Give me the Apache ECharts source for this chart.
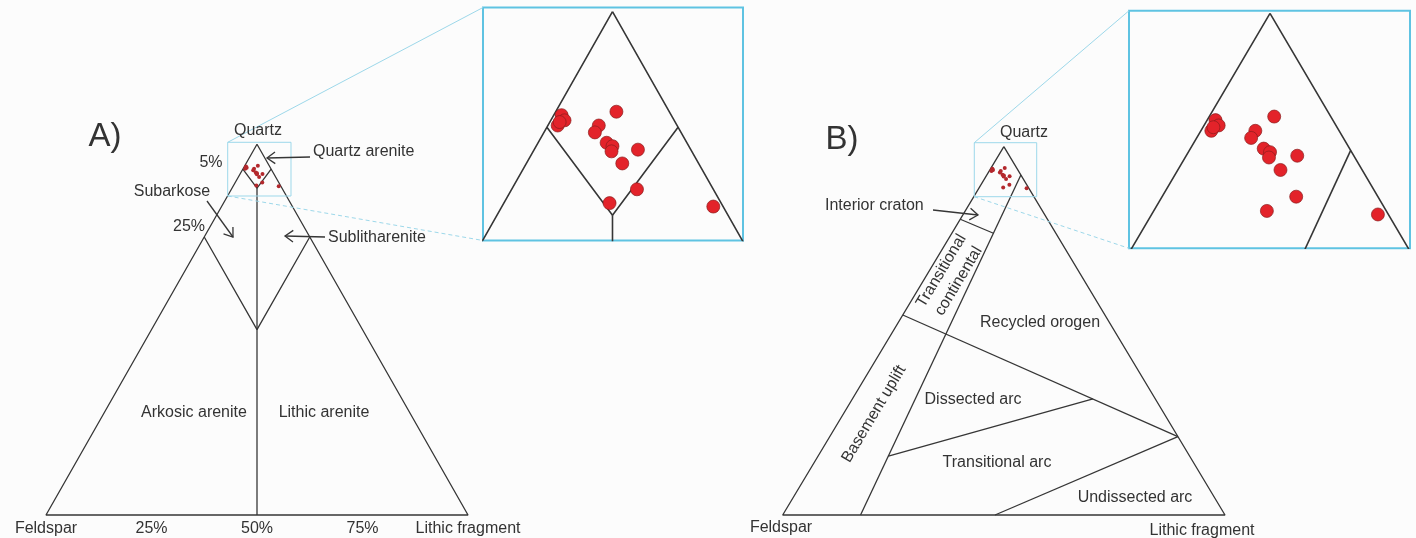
<!DOCTYPE html>
<html><head><meta charset="utf-8">
<script src="https://cdn.jsdelivr.net/npm/echarts@6/dist/echarts.min.js"></script>
<style>html,body{margin:0;padding:0;background:#fcfcfc}#c{width:1416px;height:538px}</style>
</head><body><div id="c"></div>
<script>
// Sample compositions (%): Quartz, Feldspar, Lithic fragment
const sampleQ = [94.0, 93.7, 93.4, 93.6, 94.2, 93.4, 93.0, 92.4, 92.2, 91.9, 92.0, 91.2, 89.7, 88.9, 88.7];
const sampleF = [5.6, 5.6, 6.1, 5.9, 2.7, 4.0, 4.4, 4.1, 3.9, 4.1, 2.7, 3.9, 3.9, 5.7, 0.5];
const sampleL = [0.4, 0.7, 0.5, 0.5, 3.1, 2.6, 2.6, 3.5, 3.9, 4.0, 5.3, 4.9, 6.4, 5.4, 10.8];

// Field boundaries as ternary points [Q, F, L]
const triangleOutline = [[100, 0, 0], [0, 100, 0], [0, 0, 100], [100, 0, 0]];
const folkQuartzArenite = [[93.3, 6.7, 0], [88.2, 5.9, 5.9], [93.3, 0, 6.7]];
const folkMidline = [[88.2, 5.9, 5.9], [0, 50, 50]];
const folkSubBoundary = [[75, 25, 0], [50, 25, 25], [75, 0, 25]];
const dickContinental = [[92.3, 0, 7.7], [0, 82.4, 17.6]];
const dickCraton = [[80.3, 19.7, 0], [76.5, 14.1, 9.4]];
const dickRecycled = [[54.3, 45.7, 0], [21.3, 0, 78.7]];
const dickArcSplit = [[31.5, 14.1, 54.4], [16.0, 68.1, 15.9]];
const dickUndissected = [[21.3, 0, 78.7], [0, 52, 48]];

// Text
const baseTicksA = ['Feldspar', '25%', '50%', '75%', 'Lithic fragment'];
const apexName = 'Quartz';
const panelTitles = ['A)', 'B)'];
const folkLabels = ['5%', '25%', 'Quartz arenite', 'Subarkose', 'Sublitharenite', 'Arkosic arenite', 'Lithic arenite'];
const dickLabels = ['Interior craton', 'Transitional\ncontinental', 'Recycled orogen', 'Basement uplift', 'Dissected arc', 'Transitional arc', 'Undissected arc', 'Feldspar', 'Lithic fragment'];

function toXY(p) { return [p[2] + p[0] / 2, p[0]]; }
const samplesXY = sampleQ.map((q, i) => toXY([q, sampleF[i], sampleL[i]]));

const LINE = '#363636', TXT = '#333', BLUE = '#5fc3e2', LBLUE = '#9dd8ea';
const FONT = 'Liberation Sans, Arial, sans-serif';

const grids = [
  { left: 46, top: 144.3, width: 422, height: 370.7 },
  { left: 483, top: 7.5, width: 260, height: 233, show: true, borderColor: BLUE, borderWidth: 2 },
  { left: 782.7, top: 146.7, width: 442.3, height: 368.3 },
  { left: 1129, top: 10.7, width: 281, height: 237.6, show: true, borderColor: BLUE, borderWidth: 2 }
];
const xRanges = [[0, 100], [43.385, 56.667], [0, 100], [43.271, 56.681]];
const yRanges = [[0, 100], [86.731, 100.244], [0, 100], [86.8, 100.146]];

const xAxes = xRanges.map((r, i) => ({
  type: 'value', gridIndex: i, min: r[0], max: r[1],
  interval: i === 0 ? 25 : undefined,
  show: i === 0,
  axisLine: { show: false }, axisTick: { show: false }, splitLine: { show: false },
  axisLabel: i === 0 ? {
    show: true, margin: 6, color: TXT, fontSize: 16, fontFamily: FONT,
    showMinLabel: true, showMaxLabel: true,
    formatter: v => baseTicksA[Math.round(v / 25)]
  } : { show: false }
}));
const yAxes = yRanges.map((r, i) => ({
  type: 'value', gridIndex: i, min: r[0], max: r[1], show: false,
  splitLine: { show: false }
}));

const series = [];
function addLines(gi, sets, width) {
  sets.forEach(s => series.push({
    type: 'line', xAxisIndex: gi, yAxisIndex: gi, data: s.map(toXY),
    symbol: 'none', clip: gi % 2 === 1, silent: true, animation: false,
    lineStyle: { color: LINE, width: width }
  }));
}
const folkSets = [triangleOutline, folkQuartzArenite, folkMidline, folkSubBoundary];
const dickSets = [triangleOutline, dickContinental, dickCraton, dickRecycled, dickArcSplit, dickUndissected];
addLines(0, folkSets, 1.3);
addLines(1, folkSets, 1.6);
addLines(2, dickSets, 1.3);
addLines(3, dickSets, 1.6);
[0, 2].forEach(gi => series.push({
  type: 'scatter', xAxisIndex: gi, yAxisIndex: gi, data: samplesXY, symbolSize: 4,
  itemStyle: { color: '#b3282d', opacity: 1 }, animation: false, z: 5, clip: false
}));
[1, 3].forEach(gi => series.push({
  type: 'scatter', xAxisIndex: gi, yAxisIndex: gi, data: samplesXY, symbolSize: 13,
  itemStyle: { color: '#e3232a', borderColor: '#8a1c1c', borderWidth: 0.7, opacity: 1 }, animation: false, z: 5
}));

// Annotation graphics
const g = [];
function text(t, x, y, opt) {
  opt = opt || {};
  g.push({
    type: 'text', x: x, y: y, rotation: opt.rot || 0, z: 100,
    style: {
      text: t, fill: TXT, font: (opt.size || 16) + 'px ' + FONT,
      align: opt.align || 'center', textAlign: opt.align || 'center',
      verticalAlign: 'middle', textVerticalAlign: 'middle', lineHeight: 20
    }
  });
}
function arrow(x1, y1, x2, y2) {
  const a = Math.atan2(y2 - y1, x2 - x1), L = 10, s = 0.62;
  g.push({ type: 'line', z: 100, shape: { x1, y1, x2, y2 }, style: { stroke: LINE, lineWidth: 1.3 } });
  g.push({ type: 'polyline', z: 100, shape: { points: [
    [x2 - L * Math.cos(a - s), y2 - L * Math.sin(a - s)], [x2, y2],
    [x2 - L * Math.cos(a + s), y2 - L * Math.sin(a + s)]] },
    style: { stroke: LINE, lineWidth: 1.3, fill: null } });
}
function zoomBox(x, y, w, h, ix, iy, iy2) {
  g.push({ type: 'rect', z: 90, shape: { x, y, width: w, height: h }, style: { stroke: LBLUE, lineWidth: 1, fill: null } });
  g.push({ type: 'line', z: 90, shape: { x1: x, y1: y, x2: ix, y2: iy }, style: { stroke: LBLUE, lineWidth: 1 } });
  g.push({ type: 'line', z: 90, shape: { x1: x, y1: y + h, x2: ix, y2: iy2 }, style: { stroke: LBLUE, lineWidth: 1, lineDash: [4, 3] } });
}
zoomBox(227.7, 142.3, 63.3, 53.7, 483, 7.5, 240.5);
zoomBox(974.3, 142.7, 62.4, 54, 1129, 10.7, 248.3);

const ROT = 59.1 * Math.PI / 180;
text(panelTitles[0], 105, 137, { size: 33 });
text(apexName, 258, 131);
text(folkLabels[0], 211, 163);
text(folkLabels[1], 189, 227);
text(folkLabels[2], 313, 152, { align: 'left' });
text(folkLabels[3], 172, 192);
text(folkLabels[4], 328, 238, { align: 'left' });
text(folkLabels[5], 194, 413);
text(folkLabels[6], 324, 413);
arrow(310, 157, 267, 158);
arrow(207, 201, 233, 237);
arrow(325, 237, 285, 236);

text(panelTitles[1], 842, 140, { size: 33 });
text(apexName, 1024, 133);
text(dickLabels[0], 825, 206, { align: 'left' });
text(dickLabels[1], 950, 276, { rot: ROT });
text(dickLabels[2], 1040, 323);
text(dickLabels[3], 874, 414, { rot: ROT });
text(dickLabels[4], 973, 400);
text(dickLabels[5], 997, 463);
text(dickLabels[6], 1135, 498);
text(dickLabels[7], 781, 528);
text(dickLabels[8], 1202, 531);
arrow(933, 210, 978, 215);

const chart = echarts.init(document.getElementById('c'), null, { renderer: 'canvas' });
chart.setOption({
  backgroundColor: '#fcfcfc',
  animation: false,
  grid: grids,
  xAxis: xAxes,
  yAxis: yAxes,
  series: series,
  graphic: { elements: g }
});
</script></body></html>
